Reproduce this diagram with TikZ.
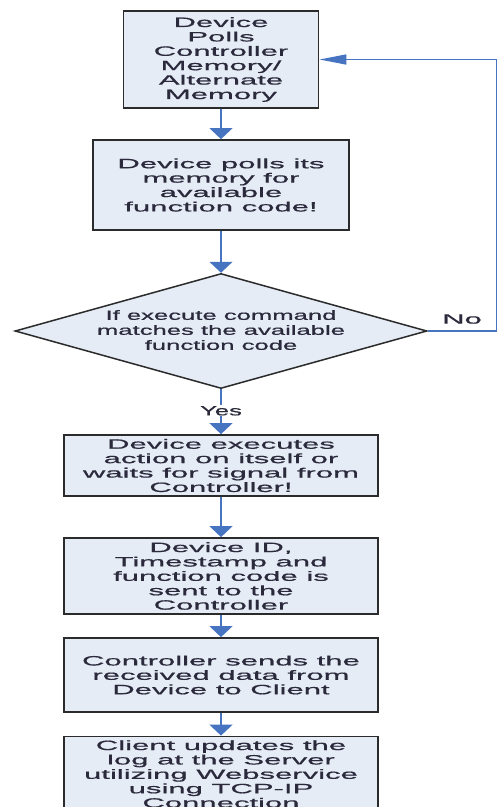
\documentclass[tikz,border=0pt]{standalone}
\usepackage{fontspec}
\setmainfont{Liberation Sans}
\newfontfamily\boxfont[FakeStretch=2.3,FakeBold=0.7]{Liberation Sans}
\newfontfamily\decfont[FakeStretch=1.9,FakeBold=0.7]{Liberation Sans}
\newfontfamily\nofont[FakeStretch=2.3,FakeBold=0.7]{Liberation Sans}
\usetikzlibrary{shapes.geometric,arrows.meta}
\definecolor{boxfill}{HTML}{E6ECF6}
\definecolor{boxline}{HTML}{2B2B2B}
\definecolor{flowblue}{HTML}{4674C0}
\definecolor{txt}{HTML}{2A2A3C}
\begin{document}
\begin{tikzpicture}[x=1pt,y=-1pt,
  stepbox/.style={draw=boxline, line width=1.8pt, fill=boxfill, inner sep=0pt,
    align=center, text=txt, font=\boxfont\fontsize{13.5}{14.4}\selectfont},
  decision/.style={diamond, draw=boxline, line width=1.5pt, fill=boxfill,
    minimum width=412pt, minimum height=115pt, inner sep=0pt},
  dectext/.style={align=center, text=txt, inner sep=0pt,
    font=\decfont\fontsize{13.5}{15}\selectfont},
  lbl/.style={text=txt, inner sep=1pt, font=\decfont\fontsize{13.5}{15}\selectfont},
  flow/.style={draw=flowblue, line width=1.5pt, -{Triangle[length=11pt,width=23pt]}},
  flowh/.style={draw=flowblue, line width=1.5pt, -{Triangle[length=27pt,width=10pt]}}
]
\useasboundingbox (0,0) rectangle (497,807);
\clip (0,0) rectangle (497,807);
\fill[white] (0,0) rectangle (497,807);

% process steps
\node[stepbox, minimum width=195pt, minimum height=97pt] (b1) at (221,59.5)
  {Device\\Polls\\Controller\\Memory/\\Alternate\\Memory};
\node[stepbox, minimum width=256pt, minimum height=90pt] (b2) at (221,185)
  {Device polls its\\memory for\\available\\function code!};
\node[decision] (dec) at (221,331) {};
\node[dectext] (dectxt) at (221,330)
  {If execute command\\matches the available\\function code};
\node[stepbox, minimum width=314pt, minimum height=61pt] (b3) at (221,465.5)
  {Device executes\\action on itself or\\waits for signal from\\Controller!};
\node[stepbox, minimum width=314pt, minimum height=76pt] (b4) at (221,576)
  {Device ID,\\Timestamp and\\function code is\\sent to the\\Controller};
\node[stepbox, minimum width=314pt, minimum height=74pt] (b5) at (221,675)
  {Controller sends the\\received data from\\Device to Client};
\node[stepbox, minimum width=314pt, minimum height=75pt] (b6) at (221,774)
  {Client updates the\\log at the Server\\utilizing Webservice\\using TCP-IP\\Connection};

% loop-back route corners
\coordinate (se) at (496.5,331);
\coordinate (ne) at (496.5,59.5);

% connectors
\draw[flow] (b1.south) -- (b2.north);
\draw[flow] (b2.south) -- (dec.north);
\draw[flow] (dec.south) -- node[lbl, fill=white, pos=0.48] (yes) {Yes} (b3.north);
\draw[flow] (b3.south) -- (b4.north);
\draw[flow] (b4.south) -- (b5.north);
\draw[flow] (b5.south) -- (b6.north);
\draw[flowh] (dec.east) -- (se) -- (ne) -- (b1.east);
\node[lbl, font=\nofont\fontsize{13.5}{15}\selectfont] (no) at (462,319) {No};
\end{tikzpicture}
\end{document}
